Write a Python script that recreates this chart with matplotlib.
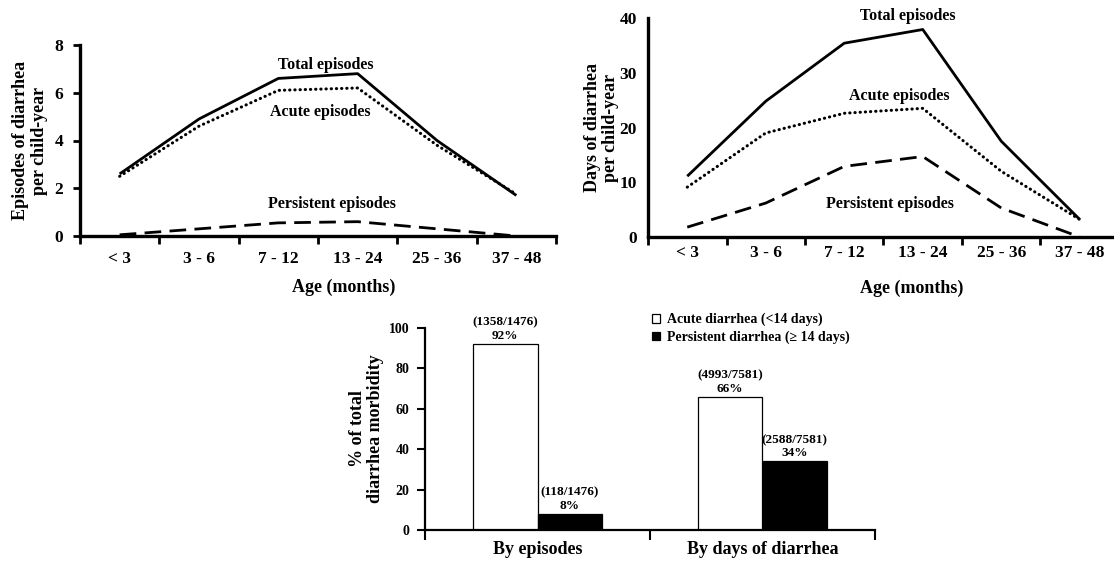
import numpy as np
import matplotlib
matplotlib.use('Agg')
import matplotlib.pyplot as plt

plt.rcParams['font.family'] = ['Liberation Serif', 'DejaVu Serif']
plt.rcParams['font.weight'] = 'bold'
plt.rcParams['axes.labelweight'] = 'bold'

# age groups shared by both line charts
age_groups = ['< 3', '3 - 6', '7 - 12', '13 - 24', '25 - 36', '37 - 48']

# episodes of diarrhea per child-year
ep_total = [2.6, 4.9, 6.6, 6.8, 4.0, 1.7]
ep_acute = [2.5, 4.6, 6.1, 6.2, 3.8, 1.75]
ep_persistent = [0.05, 0.3, 0.55, 0.6, 0.3, 0.0]

# days of diarrhea per child-year
days_total = [11.1, 24.8, 35.4, 37.9, 17.5, 3.2]
days_acute = [9.1, 19.0, 22.6, 23.5, 12.0, 3.2]
days_persistent = [1.8, 6.2, 12.9, 14.7, 5.3, 0.0]

# share of total morbidity
bar_groups = ['By episodes', 'By days of diarrhea']
acute_pct = [92, 66]
persistent_pct = [8, 34]
acute_counts = ['(1358/1476)', '(4993/7581)']
persistent_counts = ['(118/1476)', '(2588/7581)']

W, H = 1114, 563
fig = plt.figure(figsize=(W / 100, H / 100), dpi=100)


def line_axes(rect, ylim, yticks, label_pad):
    ax = fig.add_axes(rect)
    for s in ['top', 'right']:
        ax.spines[s].set_visible(False)
    for s in ['left', 'bottom']:
        ax.spines[s].set_linewidth(2.4)
    x = np.arange(len(age_groups))
    ax.set_xlim(-0.5, len(age_groups) - 0.5)
    ax.set_xticks(np.arange(-0.5, len(age_groups), 1.0))
    ax.set_xticklabels([])
    ax.set_xticks(x, age_groups, minor=True)
    ax.tick_params(axis='x', which='major', direction='out', length=6, width=2)
    ax.tick_params(axis='x', which='minor', length=0, pad=label_pad, labelsize=12.5)
    ax.set_ylim(*ylim)
    ax.set_yticks(yticks)
    ax.tick_params(axis='y', direction='out', length=5, width=2, pad=7, labelsize=12.5)
    return ax, x


def draw_lines(ax, x, total, acute, persistent):
    ax.plot(x, total, color='black', lw=2, solid_capstyle='butt', clip_on=False)
    ax.plot(x, acute, color='black', lw=2.2, linestyle=(0, (0.1, 1.6)),
            dash_capstyle='round', clip_on=False)
    ax.plot(x, persistent, color='black', lw=2, linestyle=(0, (6, 3)), clip_on=False)


# --- top left: episodes
ax1, x = line_axes([80 / W, 1 - 236 / H, 476 / W, 191 / H], (0, 8), np.arange(0, 9, 2), 11)
draw_lines(ax1, x, ep_total, ep_acute, ep_persistent)
ax1.text(2.6, 7.16, 'Total episodes', ha='center', va='center', fontsize=11.5)
ax1.text(2.53, 5.19, 'Acute episodes', ha='center', va='center', fontsize=11.5)
ax1.text(2.67, 1.34, 'Persistent episodes', ha='center', va='center', fontsize=11.5)
ax1.set_ylabel('Episodes of diarrhea\nper child-year', fontsize=13, linespacing=1.1)
ax1.yaxis.set_label_coords(-0.105, 0.5)
ax1.yaxis.label.set_va('center')
ax1.set_xlabel('Age (months)', fontsize=13)
ax1.xaxis.set_label_coords(0.553, -0.267)
ax1.xaxis.label.set_va('center')

# --- top right: days
ax2, x = line_axes([648 / W, 1 - 237 / H, 471 / W, 219 / H], (0, 40), np.arange(0, 41, 10), 6)
draw_lines(ax2, x, days_total, days_acute, days_persistent)
ax2.text(2.81, 40.4, 'Total episodes', ha='center', va='center', fontsize=11.5)
ax2.text(2.70, 25.75, 'Acute episodes', ha='center', va='center', fontsize=11.5)
ax2.text(2.58, 6.03, 'Persistent episodes', ha='center', va='center', fontsize=11.5)
ax2.tick_params(axis='y', length=0, pad=8)
ax2.set_ylabel('Days of diarrhea\nper child-year', fontsize=13, linespacing=1.1)
ax2.yaxis.set_label_coords(-0.0987, 0.5)
ax2.yaxis.label.set_va('center')
ax2.set_xlabel('Age (months)', fontsize=13)
ax2.xaxis.set_label_coords(0.56, -0.233)
ax2.xaxis.label.set_va('center')

# --- bottom: bars
ax3 = fig.add_axes([425 / W, 1 - 530 / H, 450 / W, 202 / H])
for s in ['top', 'right']:
    ax3.spines[s].set_visible(False)
for s in ['left', 'bottom']:
    ax3.spines[s].set_linewidth(1.6)
bx = np.arange(len(bar_groups))
bw = 0.287
b1 = ax3.bar(bx - bw / 2, acute_pct, bw, facecolor='white', edgecolor='black', lw=0.9,
             label='Acute diarrhea (<14 days)')
b2 = ax3.bar(bx + bw / 2, persistent_pct, bw, facecolor='black', edgecolor='black', lw=0.9,
             label='Persistent diarrhea (\u2265 14 days)')
for xi, pct, cnt in zip(bx - bw / 2, acute_pct, acute_counts):
    ax3.annotate(f'{cnt}\n{pct}%', (xi, pct), xytext=(0, 1.5), textcoords='offset points',
                 ha='center', va='bottom', fontsize=9.5, linespacing=1.15)
for xi, pct, cnt in zip(bx + bw / 2, persistent_pct, persistent_counts):
    ax3.annotate(f'{cnt}\n{pct}%', (xi, pct), xytext=(0, 1.5), textcoords='offset points',
                 ha='center', va='bottom', fontsize=9.5, linespacing=1.15)
ax3.set_xlim(-0.5, 1.5)
ax3.set_ylim(0, 100)
ax3.set_yticks(np.arange(0, 101, 20))
ax3.tick_params(axis='y', direction='out', length=6, width=1.5, pad=5, labelsize=10)
ax3.set_xticks([-0.5, 0.5, 1.5])
ax3.set_xticklabels([])
ax3.set_xticks(bx, bar_groups, minor=True)
ax3.tick_params(axis='x', which='major', direction='out', length=7, width=1.5)
ax3.tick_params(axis='x', which='minor', length=0, pad=8, labelsize=13)
ax3.set_ylabel('% of total\ndiarrhea morbidity', fontsize=13, linespacing=1.1)
ax3.yaxis.set_label_coords(-0.13, 0.5)
ax3.yaxis.label.set_va('center')
ax3.legend(handles=[b1, b2], loc='upper left', bbox_to_anchor=(652 / W, 1 - 313 / H),
           bbox_transform=fig.transFigure, frameon=False, fontsize=10,
           handlelength=0.6, handleheight=0.6, handletextpad=0.5,
           borderpad=0, borderaxespad=0, labelspacing=0.3)

fig.savefig('out.png', dpi=100)
